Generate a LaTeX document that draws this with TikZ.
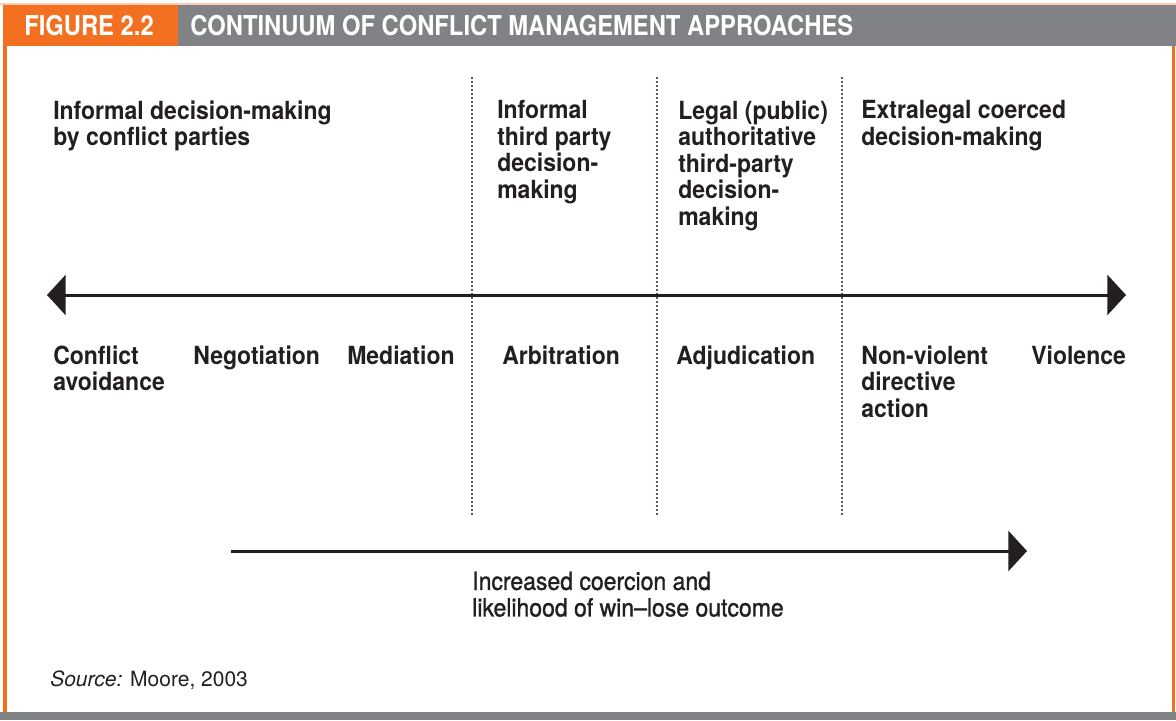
\documentclass[tikz,border=0pt]{standalone}
\usepackage{fontspec}
\setmainfont{TeX Gyre Heros}
\newfontfamily\condfont[FakeStretch=0.87]{TeX Gyre Heros}
\newfontfamily\bodyfont[FakeStretch=0.92]{TeX Gyre Heros}
\newfontfamily\notefont[FakeStretch=0.92,FakeBold=1.2]{TeX Gyre Heros}
\usetikzlibrary{arrows.meta,positioning}
\definecolor{figorange}{HTML}{F37021}
\definecolor{figgray}{HTML}{808285}
\definecolor{figpeach}{HTML}{F9CDB0}
\definecolor{figink}{HTML}{231F20}

\begin{document}
\begin{tikzpicture}[x=0.75pt,y=-0.75pt,
  title/.style={font=\condfont\bfseries\fontsize{20.5pt}{22pt}\selectfont,
                text=white,inner sep=0pt,anchor=base west},
  zone/.style={font=\bodyfont\bfseries\fontsize{18.75pt}{19.9pt}\selectfont,
               text=figink,align=left,inner sep=0pt,anchor=north west,
               execute at begin node=\strut},
  note/.style={zone,font=\notefont\fontsize{18.75pt}{19.9pt}\selectfont},
  src/.style={font=\fontsize{15.75pt}{18pt}\selectfont,text=figink,
              inner sep=0pt,anchor=base west},
  divider/.style={figink,line width=1.7pt,line cap=round,dash pattern=on 0pt off 3pt},
  arr/.style={figink,line width=2.25pt}
]
  \useasboundingbox (0,0) rectangle (1176,720);

  % ---- Frame and header bar ---------------------------------
  \fill[figpeach] (0,3) rectangle (1176,5);
  \fill[figorange] (3,5) rectangle (178,46);
  \fill[figgray] (178,5) rectangle (1176,46);
  \fill[figorange] (3,46) rectangle (7,712);
  \fill[figorange] (1172,46) rectangle (1175,712);
  \fill[figgray] (0,712) rectangle (1176,720);

  \node[title] (fig) at (24,36) {FIGURE 2.2};
  \node[title] (head) at (190,36) {CONTINUUM OF CONFLICT MANAGEMENT APPROACHES};

  % ---- Dotted dividers between zones ------------------------
  \foreach \i/\x in {1/472,2/657,3/842} {
    \coordinate (d\i t) at (\x,78);
    \coordinate (d\i b) at (\x,517);
    \draw[divider] (d\i t) -- (d\i b);
  }

  % ---- Zone headings (top row) ------------------------------
  % strut top sits 18.6px above the first baseline
  \node[zone] (Z1) at (53,100.4) {Informal decision-making\\by conflict parties};
  \node[zone] (Z2) at (497,100.4) {Informal\\third party\\decision-\\making};
  \node[zone] (Z3) at (678,100.4) {Legal (public)\\authoritative\\third-party\\decision-\\making};
  \node[zone] (Z4) at (861,100.4) {Extralegal coerced\\decision-making};

  % Continuum arrow
  \coordinate (L) at (47,295);
  \coordinate (R) at (1126,295);
  \draw[arr,{Triangle[length=14pt,width=30pt]}-{Triangle[length=14pt,width=30pt]}] (L) -- (R);

  % ---- Approaches under the arrow ---------------------------
  \node[zone] (avoid) at (53,345.4)   {Conflict\\avoidance};
  \node[zone] (nego)  at (193,345.4)  {Negotiation};
  \node[zone] (medi)  at (347,345.4)  {Mediation};
  \node[zone] (arbi)  at (502,345.4)  {Arbitration};
  \node[zone] (adju)  at (676,345.4)  {Adjudication};
  \node[zone] (nonv)  at (861,345.4)  {Non-violent\\directive\\action};
  \node[zone] (viol)  at (1031,345.4) {Violence};

  % ---- Coercion arrow and note ------------------------------
  \coordinate (cs) at (231,551);
  \coordinate (ce) at (1027,551);
  \draw[arr,-{Triangle[length=14pt,width=30pt]}] (cs) -- (ce);
  \node[note] (coerce) at (472,571.4)
    {Increased coercion and\\likelihood of win\textendash lose outcome};

  \node[src] (source) at (50,686) {\textit{Source:} Moore, 2003};

\end{tikzpicture}
\end{document}
